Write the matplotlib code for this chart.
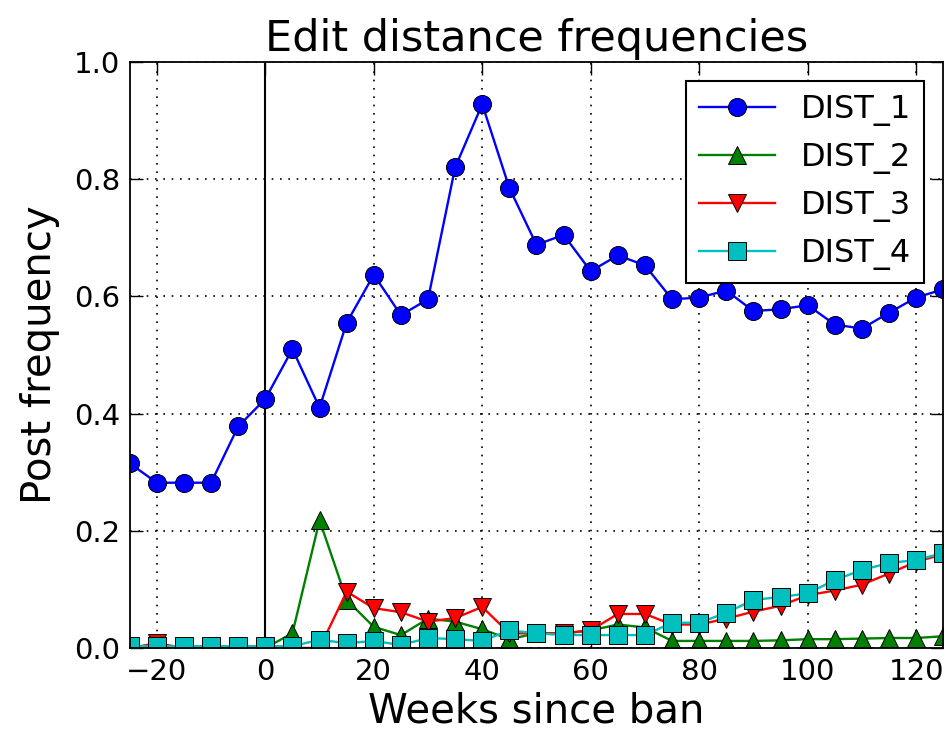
import numpy as np
import matplotlib
matplotlib.use('Agg')
import matplotlib.pyplot as plt

weeks = list(range(-25, 130, 5))
dist_1 = [0.315, 0.282, 0.282, 0.282, 0.378, 0.425, 0.51, 0.41, 0.555, 0.637,
          0.568, 0.595, 0.82, 0.928, 0.785, 0.688, 0.705, 0.643, 0.67, 0.653,
          0.595, 0.598, 0.61, 0.575, 0.578, 0.585, 0.552, 0.545, 0.572, 0.598, 0.612]
dist_2 = [0.0, 0.005, 0.0, 0.0, 0.0, 0.0, 0.025, 0.218, 0.082, 0.036,
          0.022, 0.05, 0.045, 0.032, 0.015, 0.025, 0.025, 0.03, 0.04, 0.035,
          0.012, 0.012, 0.012, 0.012, 0.013, 0.015, 0.015, 0.016, 0.017, 0.017, 0.02]
dist_3 = [0.0, 0.008, 0.0, 0.0, 0.0, 0.0, 0.0, 0.0, 0.096, 0.068,
          0.061, 0.045, 0.051, 0.07, 0.025, 0.025, 0.025, 0.03, 0.058, 0.058,
          0.04, 0.04, 0.05, 0.062, 0.072, 0.09, 0.098, 0.108, 0.127, 0.147, 0.16]
dist_4 = [0.003, 0.003, 0.003, 0.003, 0.003, 0.003, 0.003, 0.014, 0.008, 0.012,
          0.005, 0.017, 0.015, 0.012, 0.03, 0.025, 0.022, 0.022, 0.022, 0.022,
          0.043, 0.043, 0.06, 0.082, 0.087, 0.093, 0.116, 0.133, 0.145, 0.15, 0.162]
labels = ['DIST_1', 'DIST_2', 'DIST_3', 'DIST_4']

plt.rcParams['xtick.direction'] = 'in'
plt.rcParams['ytick.direction'] = 'in'
plt.rcParams['xtick.top'] = True
plt.rcParams['ytick.right'] = True

fig = plt.figure(figsize=(9.47, 7.38), dpi=100)
ax = fig.add_axes([0.137, 0.122, 0.859, 0.794])

ax.axvline(0, color='k', lw=1.5)
style = dict(mec='k', mew=0.7, ms=13, lw=1.7)
ax.plot(weeks, dist_1, '-o', color='b', label=labels[0], **style)
ax.plot(weeks, dist_2, '-^', color='g', label=labels[1], **style)
ax.plot(weeks, dist_3, '-v', color='r', label=labels[2], **style)
ax.plot(weeks, dist_4, '-s', color='c', label=labels[3], **style)

ax.set_xlim(-25, 125)
ax.set_ylim(0, 1.0)
ax.set_xticks(range(-20, 121, 20))
ax.set_yticks(np.arange(0, 1.01, 0.2))
ax.grid(True, color='k', linestyle=(0, (1, 4)), lw=1.2)
ax.tick_params(labelsize=21, length=9, width=1, pad=7)
for s in ax.spines.values():
    s.set_linewidth(1.3)

ax.set_title('Edit distance frequencies', fontsize=31, pad=8)
ax.set_xlabel('Weeks since ban', fontsize=29, labelpad=4)
ax.set_ylabel('Post frequency', fontsize=29, labelpad=10)

leg = ax.legend(loc='upper right', numpoints=1, fontsize=23, fancybox=False,
                edgecolor='k', framealpha=1, handlelength=2.4, borderaxespad=0.6)
leg.get_frame().set_linewidth(1.5)

fig.savefig('out.png', dpi=100, facecolor='white')
